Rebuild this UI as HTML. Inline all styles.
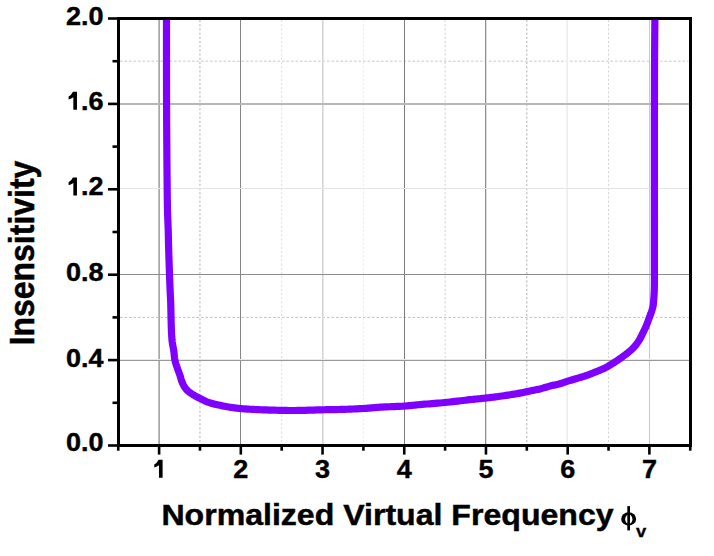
<!DOCTYPE html>
<html><head><meta charset="utf-8"><style>
html,body{margin:0;padding:0;background:#fff;}
svg{display:block;}
text{font-family:"Liberation Sans",sans-serif;}
.tl{font-weight:bold;font-size:25px;fill:#000;stroke:#000;stroke-width:0.4px;}
.g1{fill:#000;}
.yt{font-weight:bold;font-size:32px;fill:#000;stroke:#000;stroke-width:0.45px;}
.xt{font-weight:bold;font-size:30px;fill:#000;stroke:#000;stroke-width:0.45px;}
.phi{font-family:"Liberation Serif",serif;font-size:30px;fill:#000;}
.sub{font-weight:bold;font-size:17px;fill:#000;stroke:#000;stroke-width:0.3px;}
.mn{stroke-width:1;}
.tk{stroke:#000;stroke-width:2.6;}
</style></head><body>
<svg width="714" height="556" viewBox="0 0 714 556">
<defs><clipPath id="clip"><rect x="118" y="18" width="572" height="427"/></clipPath></defs>
<rect x="0" y="0" width="714" height="556" fill="#fff"/>
<line x1="199.96" y1="20" x2="199.96" y2="443.5" stroke="#b0b0b0" class="mn" stroke-dasharray="2.1 2.1"/>
<line x1="281.68" y1="20" x2="281.68" y2="443.5" stroke="#dcdcdc" class="mn" stroke-dasharray="2.1 2.1"/>
<line x1="363.39" y1="20" x2="363.39" y2="443.5" stroke="#ececec" class="mn" stroke-dasharray="2.1 2.1"/>
<line x1="445.11" y1="20" x2="445.11" y2="443.5" stroke="#d0d0d0" class="mn" stroke-dasharray="2.1 2.1"/>
<line x1="526.82" y1="20" x2="526.82" y2="443.5" stroke="#b0b0b0" class="mn" stroke-dasharray="2.1 2.1"/>
<line x1="608.54" y1="20" x2="608.54" y2="443.5" stroke="#d4d4d4" class="mn" stroke-dasharray="2.1 2.1"/>
<line x1="120" y1="317.40" x2="688.5" y2="317.40" stroke="#c0c0c0" class="mn" stroke-dasharray="2.6 1.9"/>
<line x1="120" y1="61.20" x2="688.5" y2="61.20" stroke="#c8c8c8" class="mn" stroke-dasharray="2.6 1.9"/>
<rect x="158" y="19" width="1" height="425" fill="#c0c0c0"/>
<rect x="159" y="19" width="1" height="425" fill="#a8a8a8"/>
<rect x="240" y="19" width="1" height="425" fill="#848484"/>
<rect x="322" y="19" width="1" height="425" fill="#d4d4d4"/>
<rect x="323" y="19" width="1" height="425" fill="#e6e6e6"/>
<rect x="404" y="19" width="1" height="425" fill="#7c7c7c"/>
<rect x="485" y="19" width="1" height="425" fill="#8e8e8e"/>
<rect x="486" y="19" width="1" height="425" fill="#e0e0e0"/>
<rect x="566" y="19" width="1" height="425" fill="#f2f2f2"/>
<rect x="567" y="19" width="1" height="425" fill="#eeeeee"/>
<rect x="649" y="19" width="1" height="425" fill="#c8c8c8"/>
<rect x="119" y="103" width="570" height="1" fill="#b8b8b8"/>
<rect x="119" y="104" width="570" height="1" fill="#b8b8b8"/>
<rect x="119" y="188" width="570" height="1" fill="#e4e4e4"/>
<rect x="119" y="274" width="570" height="1" fill="#8c8c8c"/>
<rect x="119" y="359" width="570" height="1" fill="#e8e8e8"/>
<rect x="119" y="360" width="570" height="1" fill="#999999"/>
<g clip-path="url(#clip)"><polyline points="166.50,5.00 166.50,7.09 166.50,12.90 166.50,21.73 166.50,32.90 166.50,45.70 166.51,59.45 166.52,73.44 166.54,87.00 166.57,99.41 166.60,110.00 166.63,117.70 166.67,125.37 166.72,132.96 166.77,140.42 166.82,147.71 166.87,154.78 166.93,161.59 166.99,168.10 167.04,174.25 167.10,180.00 167.14,183.53 167.17,186.90 167.20,190.11 167.23,193.19 167.26,196.16 167.30,199.04 167.34,201.84 167.39,204.59 167.44,207.30 167.50,210.00 167.56,212.16 167.62,214.26 167.69,216.30 167.77,218.29 167.84,220.25 167.92,222.19 167.99,224.13 168.07,226.06 168.14,228.02 168.20,230.00 168.26,231.99 168.31,233.97 168.36,235.94 168.40,237.91 168.45,239.89 168.49,241.87 168.54,243.87 168.59,245.88 168.64,247.93 168.70,250.00 168.77,252.33 168.84,254.74 168.92,257.19 169.00,259.68 169.09,262.17 169.17,264.64 169.26,267.09 169.34,269.48 169.42,271.79 169.50,274.00 169.56,275.75 169.62,277.47 169.68,279.16 169.74,280.81 169.80,282.44 169.86,284.02 169.92,285.58 169.98,287.09 170.04,288.57 170.10,290.00 170.15,291.06 170.20,292.04 170.24,292.96 170.29,293.85 170.34,294.73 170.39,295.63 170.44,296.58 170.49,297.61 170.54,298.74 170.60,300.00 170.71,303.03 170.80,306.69 170.90,310.83 171.00,315.28 171.10,319.90 171.22,324.53 171.37,329.00 171.54,333.18 171.75,336.90 172.00,340.00 172.15,341.39 172.32,342.66 172.51,343.85 172.70,344.95 172.89,346.00 173.09,347.01 173.28,348.00 173.47,348.98 173.64,349.97 173.80,351.00 173.92,351.94 174.03,352.87 174.12,353.79 174.21,354.70 174.29,355.60 174.38,356.49 174.48,357.38 174.60,358.26 174.73,359.13 174.90,360.00 175.08,360.83 175.29,361.64 175.51,362.45 175.74,363.25 175.99,364.04 176.24,364.83 176.51,365.62 176.77,366.41 177.04,367.20 177.30,368.00 177.57,368.82 177.86,369.64 178.16,370.47 178.47,371.30 178.77,372.13 179.08,372.95 179.38,373.76 179.67,374.56 179.94,375.34 180.20,376.10 180.40,376.72 180.57,377.33 180.73,377.93 180.89,378.51 181.04,379.09 181.19,379.67 181.36,380.24 181.55,380.82 181.76,381.41 182.00,382.00 182.31,382.70 182.65,383.43 183.02,384.17 183.40,384.92 183.81,385.66 184.23,386.39 184.66,387.10 185.10,387.78 185.55,388.41 186.00,389.00 186.37,389.44 186.75,389.85 187.13,390.24 187.52,390.60 187.91,390.95 188.31,391.29 188.72,391.62 189.14,391.95 189.57,392.27 190.00,392.60 190.47,392.95 190.95,393.29 191.44,393.62 191.95,393.95 192.45,394.28 192.97,394.60 193.48,394.91 193.99,395.21 194.50,395.51 195.00,395.80 195.46,396.06 195.91,396.31 196.35,396.55 196.79,396.78 197.23,397.01 197.68,397.24 198.14,397.47 198.61,397.70 199.09,397.95 199.60,398.20 200.26,398.54 200.95,398.90 201.66,399.27 202.38,399.65 203.13,400.03 203.88,400.41 204.65,400.78 205.43,401.14 206.21,401.48 207.00,401.80 207.84,402.11 208.69,402.41 209.55,402.68 210.42,402.95 211.30,403.20 212.19,403.44 213.11,403.68 214.05,403.92 215.01,404.16 216.00,404.40 217.28,404.70 218.63,405.01 220.04,405.32 221.48,405.62 222.94,405.91 224.41,406.20 225.87,406.47 227.30,406.73 228.68,406.98 230.00,407.20 231.06,407.37 232.07,407.53 233.05,407.67 234.02,407.81 234.97,407.94 235.93,408.06 236.90,408.17 237.89,408.28 238.92,408.39 240.00,408.50 241.37,408.63 242.77,408.75 244.21,408.86 245.68,408.96 247.17,409.06 248.70,409.16 250.24,409.25 251.81,409.33 253.40,409.42 255.00,409.50 256.88,409.59 258.82,409.68 260.79,409.76 262.79,409.83 264.82,409.91 266.86,409.97 268.91,410.03 270.95,410.09 272.99,410.15 275.00,410.20 276.99,410.25 278.95,410.30 280.91,410.35 282.86,410.39 284.81,410.43 286.78,410.46 288.78,410.48 290.81,410.50 292.88,410.51 295.00,410.50 297.55,410.47 300.18,410.43 302.87,410.37 305.61,410.29 308.38,410.21 311.16,410.12 313.93,410.03 316.67,409.95 319.37,409.87 322.00,409.80 324.38,409.75 326.74,409.70 329.09,409.65 331.41,409.61 333.72,409.57 336.00,409.53 338.28,409.48 340.53,409.43 342.77,409.37 345.00,409.30 347.07,409.23 349.14,409.16 351.19,409.08 353.24,409.00 355.27,408.91 357.28,408.82 359.26,408.72 361.21,408.62 363.12,408.51 365.00,408.40 366.57,408.29 368.08,408.18 369.55,408.06 370.99,407.93 372.42,407.81 373.85,407.68 375.31,407.55 376.81,407.43 378.37,407.31 380.00,407.20 382.19,407.07 384.52,406.96 386.94,406.86 389.43,406.77 391.95,406.67 394.48,406.58 396.98,406.47 399.42,406.36 401.77,406.24 404.00,406.10 405.72,405.97 407.35,405.84 408.93,405.69 410.46,405.55 411.98,405.39 413.50,405.24 415.04,405.08 416.62,404.92 418.27,404.76 420.00,404.60 422.27,404.40 424.64,404.21 427.09,404.01 429.60,403.81 432.15,403.61 434.74,403.40 437.33,403.19 439.91,402.97 442.48,402.74 445.00,402.50 447.53,402.24 450.10,401.97 452.69,401.68 455.29,401.39 457.87,401.09 460.43,400.79 462.94,400.50 465.38,400.22 467.74,399.95 470.00,399.70 471.70,399.52 473.34,399.35 474.94,399.19 476.49,399.03 478.01,398.88 479.52,398.73 481.01,398.58 482.49,398.43 483.99,398.27 485.50,398.10 486.96,397.93 488.40,397.77 489.81,397.60 491.23,397.44 492.64,397.27 494.06,397.09 495.50,396.91 496.96,396.72 498.46,396.52 500.00,396.30 501.90,396.03 503.91,395.73 505.99,395.42 508.10,395.09 510.23,394.76 512.35,394.42 514.41,394.08 516.39,393.74 518.27,393.41 520.00,393.10 521.14,392.88 522.22,392.67 523.26,392.46 524.25,392.25 525.22,392.04 526.17,391.83 527.11,391.63 528.06,391.42 529.02,391.21 530.00,391.00 531.00,390.79 532.00,390.59 533.00,390.39 534.00,390.19 535.01,389.99 536.01,389.79 537.01,389.58 538.01,389.36 539.00,389.14 540.00,388.90 541.00,388.65 542.00,388.38 543.00,388.10 544.00,387.81 545.00,387.52 546.00,387.22 547.00,386.93 548.00,386.65 549.00,386.37 550.00,386.10 551.01,385.85 552.03,385.60 553.06,385.36 554.09,385.13 555.11,384.90 556.13,384.67 557.14,384.43 558.12,384.20 559.08,383.95 560.00,383.70 560.75,383.48 561.48,383.26 562.18,383.03 562.87,382.80 563.55,382.56 564.23,382.33 564.91,382.09 565.59,381.86 566.29,381.63 567.00,381.40 567.77,381.16 568.55,380.92 569.33,380.68 570.12,380.45 570.91,380.21 571.71,379.98 572.52,379.74 573.33,379.50 574.16,379.25 575.00,379.00 575.96,378.72 576.93,378.43 577.92,378.15 578.93,377.86 579.94,377.57 580.96,377.27 581.97,376.97 582.99,376.65 584.00,376.33 585.00,376.00 586.01,375.65 587.01,375.30 588.01,374.93 589.01,374.56 590.01,374.18 591.01,373.79 592.01,373.40 593.01,373.00 594.00,372.60 595.00,372.20 596.00,371.80 597.01,371.39 598.02,370.99 599.02,370.58 600.03,370.17 601.03,369.74 602.03,369.31 603.02,368.86 604.01,368.39 605.00,367.90 606.01,367.37 607.03,366.83 608.03,366.27 609.04,365.69 610.04,365.10 611.03,364.50 612.03,363.88 613.02,363.26 614.01,362.63 615.00,362.00 616.02,361.34 617.04,360.67 618.06,359.99 619.08,359.29 620.10,358.59 621.11,357.88 622.10,357.16 623.09,356.44 624.05,355.72 625.00,355.00 625.88,354.32 626.75,353.64 627.61,352.96 628.47,352.27 629.31,351.58 630.13,350.88 630.94,350.18 631.72,349.46 632.47,348.74 633.20,348.00 633.84,347.31 634.47,346.61 635.07,345.91 635.65,345.19 636.22,344.47 636.77,343.75 637.30,343.01 637.81,342.28 638.31,341.54 638.80,340.80 639.24,340.10 639.66,339.39 640.06,338.67 640.44,337.95 640.81,337.23 641.18,336.50 641.53,335.78 641.89,335.05 642.24,334.33 642.60,333.60 642.96,332.89 643.31,332.18 643.66,331.48 644.00,330.77 644.34,330.06 644.68,329.35 645.01,328.63 645.34,327.90 645.67,327.16 646.00,326.40 646.36,325.54 646.71,324.65 647.07,323.74 647.42,322.82 647.76,321.89 648.10,320.96 648.44,320.03 648.77,319.13 649.09,318.25 649.40,317.40 649.66,316.70 649.92,316.01 650.18,315.33 650.44,314.66 650.68,314.00 650.93,313.35 651.16,312.71 651.38,312.07 651.60,311.43 651.80,310.80 651.97,310.24 652.14,309.69 652.30,309.15 652.45,308.61 652.60,308.08 652.74,307.54 652.87,307.01 652.99,306.48 653.10,305.94 653.20,305.40 653.29,304.87 653.36,304.35 653.42,303.84 653.47,303.33 653.51,302.81 653.55,302.28 653.58,301.74 653.62,301.19 653.66,300.61 653.70,300.00 653.77,299.15 653.83,298.28 653.90,297.39 653.97,296.48 654.03,295.53 654.09,294.53 654.15,293.49 654.21,292.39 654.26,291.23 654.30,290.00 654.36,287.77 654.40,285.44 654.42,282.99 654.43,280.38 654.43,277.60 654.42,274.61 654.41,271.38 654.40,267.89 654.40,264.11 654.40,260.00 654.41,247.48 654.42,231.67 654.42,213.30 654.41,193.11 654.41,171.84 654.41,150.21 654.41,128.98 654.43,108.88 654.46,90.64 654.50,75.00 654.54,66.02 654.59,56.63 654.66,47.14 654.72,37.88 654.79,29.17 654.86,21.32 654.91,14.66 654.96,9.51 654.99,6.18 655.00,5.00" fill="none" stroke="#8000ff" stroke-width="7.2" stroke-linejoin="round" stroke-linecap="butt"/></g>
<line x1="159.11" y1="445" x2="159.11" y2="454.6" class="tk"/>
<line x1="240.82" y1="445" x2="240.82" y2="454.6" class="tk"/>
<line x1="322.54" y1="445" x2="322.54" y2="454.6" class="tk"/>
<line x1="404.25" y1="445" x2="404.25" y2="454.6" class="tk"/>
<line x1="485.96" y1="445" x2="485.96" y2="454.6" class="tk"/>
<line x1="567.68" y1="445" x2="567.68" y2="454.6" class="tk"/>
<line x1="649.39" y1="445" x2="649.39" y2="454.6" class="tk"/>
<line x1="118.25" y1="445" x2="118.25" y2="450.7" class="tk"/>
<line x1="199.96" y1="445" x2="199.96" y2="450.7" class="tk"/>
<line x1="281.68" y1="445" x2="281.68" y2="450.7" class="tk"/>
<line x1="363.39" y1="445" x2="363.39" y2="450.7" class="tk"/>
<line x1="445.11" y1="445" x2="445.11" y2="450.7" class="tk"/>
<line x1="526.82" y1="445" x2="526.82" y2="450.7" class="tk"/>
<line x1="608.54" y1="445" x2="608.54" y2="450.7" class="tk"/>
<line x1="690.25" y1="445" x2="690.25" y2="450.7" class="tk"/>
<line x1="108" y1="445.50" x2="118" y2="445.50" class="tk"/>
<line x1="108" y1="360.10" x2="118" y2="360.10" class="tk"/>
<line x1="108" y1="274.70" x2="118" y2="274.70" class="tk"/>
<line x1="108" y1="189.30" x2="118" y2="189.30" class="tk"/>
<line x1="108" y1="103.90" x2="118" y2="103.90" class="tk"/>
<line x1="108" y1="18.50" x2="118" y2="18.50" class="tk"/>
<line x1="112.5" y1="402.80" x2="118" y2="402.80" class="tk"/>
<line x1="112.5" y1="317.40" x2="118" y2="317.40" class="tk"/>
<line x1="112.5" y1="232.00" x2="118" y2="232.00" class="tk"/>
<line x1="112.5" y1="146.60" x2="118" y2="146.60" class="tk"/>
<line x1="112.5" y1="61.20" x2="118" y2="61.20" class="tk"/>
<rect x="118.5" y="18.5" width="572" height="427" fill="none" stroke="#000" stroke-width="3"/>
<path d="M835,0 L560,0 L560,1030 Q420,905 200,830 L200,1085 Q400,1170 530,1466 L835,1466 Z" transform="translate(151.60,477.70) scale(0.013184,-0.012207)" class="g1"/>
<text x="222.98" y="477.7" transform="scale(1.08,1)" text-anchor="middle" class="tl">2</text>
<text x="298.64" y="477.7" transform="scale(1.08,1)" text-anchor="middle" class="tl">3</text>
<text x="374.31" y="477.7" transform="scale(1.08,1)" text-anchor="middle" class="tl">4</text>
<text x="449.97" y="477.7" transform="scale(1.08,1)" text-anchor="middle" class="tl">5</text>
<text x="525.63" y="477.7" transform="scale(1.08,1)" text-anchor="middle" class="tl">6</text>
<text x="601.29" y="477.7" transform="scale(1.08,1)" text-anchor="middle" class="tl">7</text>
<text x="95.83" y="451.40" transform="scale(1.08,1)" text-anchor="end" class="tl">0.0</text>
<text x="95.83" y="366.90" transform="scale(1.08,1)" text-anchor="end" class="tl">0.4</text>
<text x="95.83" y="281.10" transform="scale(1.08,1)" text-anchor="end" class="tl">0.8</text>
<path d="M835,0 L560,0 L560,1030 Q420,905 200,830 L200,1085 Q400,1170 530,1466 L835,1466 Z" transform="translate(65.96,195.50) scale(0.013184,-0.012207)" class="g1"/>
<text x="74.98" y="195.50" transform="scale(1.08,1)" class="tl">.2</text>
<path d="M835,0 L560,0 L560,1030 Q420,905 200,830 L200,1085 Q400,1170 530,1466 L835,1466 Z" transform="translate(65.96,109.70) scale(0.013184,-0.012207)" class="g1"/>
<text x="74.98" y="109.70" transform="scale(1.08,1)" class="tl">.6</text>
<text x="95.83" y="25.00" transform="scale(1.08,1)" text-anchor="end" class="tl">2.0</text>
<text transform="translate(34,345.5) rotate(-90) scale(1,1.125)" class="yt">Insensitivity</text>
<text transform="translate(161.4,524.6) scale(1.07,1)" class="xt">Normalized Virtual Frequency</text>
<ellipse cx="628.65" cy="518.95" rx="7.5" ry="6.6" fill="#000"/>
<ellipse cx="628.8" cy="519.2" rx="3.6" ry="4.7" fill="#fff"/>
<rect x="627.3" y="506.1" width="2.7" height="24.3" fill="#000"/>
<text transform="translate(636,536.5) scale(1.08,1)" class="sub">v</text>
</svg>
</body></html>
